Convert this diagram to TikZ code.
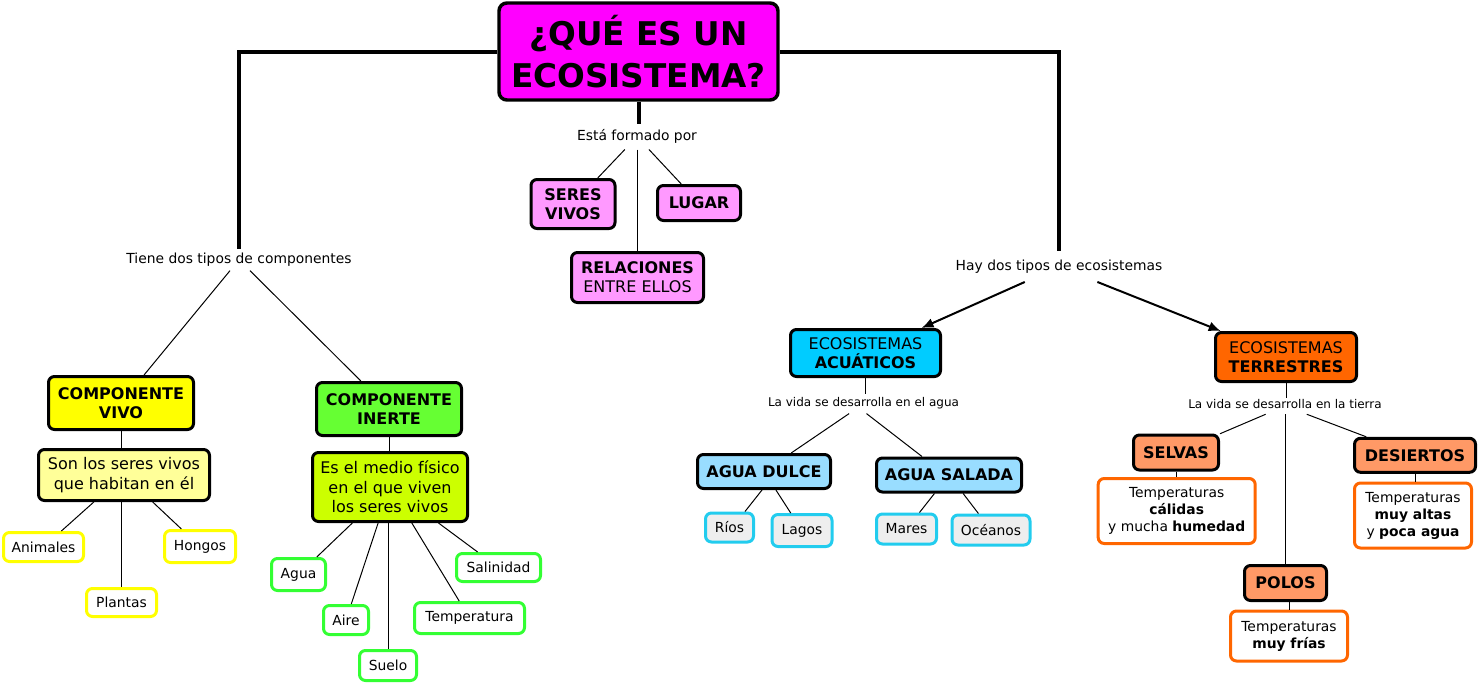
\documentclass[tikz,border=0pt]{standalone}
\usepackage{fontspec}
\setmainfont{DejaVu Sans}
\usetikzlibrary{arrows.meta,calc}
\definecolor{cTitle}{HTML}{FF00FF}
\definecolor{cPink}{HTML}{FF99FF}
\definecolor{cYel}{HTML}{FFFF00}
\definecolor{cLYel}{HTML}{FFFF99}
\definecolor{cGreen}{HTML}{66FF33}
\definecolor{cLime}{HTML}{CCFF00}
\definecolor{cLeafGreen}{HTML}{33FF33}
\definecolor{cCyan}{HTML}{00CCFF}
\definecolor{cLBlue}{HTML}{99DDFF}
\definecolor{cLeafBlue}{HTML}{22CCEE}
\definecolor{cGray}{HTML}{EEEEEE}
\definecolor{cOrange}{HTML}{FF6600}
\definecolor{cSalmon}{HTML}{FF9966}
\begin{document}
\begin{tikzpicture}[x=0.75pt,y=-0.75pt,
  box/.style={draw=black, line width=2.25pt, rounded corners=4.5pt, align=center, inner sep=1pt,
    font=\fontsize{12}{14.25}\selectfont\bfseries},
  txtbox/.style={draw=black, line width=2.25pt, rounded corners=4.5pt, align=center, inner sep=1pt,
    font=\fontsize{12}{14.5}\selectfont},
  leaf/.style={draw=#1, line width=2.25pt, rounded corners=4.5pt, align=center, inner sep=1pt,
    font=\fontsize{10.4}{12.75}\selectfont},
  sz/.style 2 args={minimum width=#1*0.75pt, minimum height=#2*0.75pt},
  lbl/.style={font=\fontsize{10.4}{12}\selectfont, text height=7.5pt, text depth=2.5pt, inner xsep=2pt},
  slbl/.style={font=\fontsize{9}{11}\selectfont, text height=6.5pt, text depth=2.2pt, inner xsep=2pt},
  con/.style={line width=0.75pt},
  trunk/.style={line width=3pt},
  arr/.style={line width=1.5pt, -{Latex[length=9pt,width=7.5pt]}},
]
\useasboundingbox (0,0) rectangle (1478,683);

% ---------- title and centre ----------
\node[box, fill=cTitle, line width=2.6pt, rounded corners=6pt, sz={279}{97},
  font=\fontsize{24.5}{31}\selectfont\bfseries] (title) at (638.5,51.5) {¿QUÉ ES UN\\ECOSISTEMA?};
\node[lbl, font=\fontsize{10.4}{12}\selectfont, inner ysep=4.4pt] (esta) at (637,136.7) {Está formado por};
\node[box, fill=cPink, sz={84}{49}] (seres) at (573,204) {SERES\\VIVOS};
\node[box, fill=cPink, sz={83}{35}] (lugar) at (699,203) {LUGAR};
\node[box, fill=cPink, sz={132}{50}] (rel) at (637.5,277.5) {RELACIONES\\{\mdseries ENTRE ELLOS}};

% ---------- left branch ----------
\node[lbl, inner ysep=3pt] (tiene) at (239,259.7) {Tiene dos tipos de componentes};
\node[box, fill=cYel, sz={145}{53}] (vivo) at (121,403) {COMPONENTE\\VIVO};
\node[txtbox, fill=cLYel, sz={171}{51}] (son) at (124,475) {Son los seres vivos\\que habitan en él};
\node[leaf=cYel, fill=white, sz={80}{29}] (animales) at (43.5,547) {Animales};
\node[leaf=cYel, fill=white, sz={70}{28}] (plantas) at (121.5,602.5) {Plantas};
\node[leaf=cYel, fill=white, sz={71}{32}] (hongos) at (200,546.5) {Hongos};

\node[box, fill=cGreen, sz={145}{53}] (inerte) at (389,409) {COMPONENTE\\INERTE};
\node[txtbox, fill=cLime, sz={155}{69}] (es) at (390,487) {Es el medio físico\\en el que viven\\los seres vivos};
\node[leaf=cLeafGreen, fill=white, sz={54}{32}] (agua) at (298.5,574.5) {Agua};
\node[leaf=cLeafGreen, fill=white, sz={45}{29}] (aire) at (346,620) {Aire};
\node[leaf=cLeafGreen, fill=white, sz={57}{30}] (suelo) at (388,665.5) {Suelo};
\node[leaf=cLeafGreen, fill=white, sz={110}{31}] (temp) at (469.5,618) {Temperatura};
\node[leaf=cLeafGreen, fill=white, sz={84}{28}] (salin) at (498.5,567.5) {Salinidad};

% ---------- right branch ----------
\node[lbl, inner ysep=6.25pt] (hay) at (1059,266.7) {Hay dos tipos de ecosistemas};
\node[box, fill=cCyan, sz={150}{47}] (acua) at (865.5,353) {{\mdseries ECOSISTEMAS}\\ACUÁTICOS};
\node[slbl, inner ysep=2.8pt] (lagua) at (863.5,403.8) {La vida se desarrolla en el agua};
\node[box, fill=cLBlue, sz={133}{34}] (dulce) at (764,471.5) {AGUA DULCE};
\node[box, fill=cLBlue, sz={145}{34}] (salada) at (949,475) {AGUA SALADA};
\node[leaf=cLeafBlue, fill=cGray, sz={48}{29}] (rios) at (729.5,527.5) {Ríos};
\node[leaf=cLeafBlue, fill=cGray, sz={60}{32}] (lagos) at (802,530.5) {Lagos};
\node[leaf=cLeafBlue, fill=cGray, sz={60}{30}] (mares) at (906.5,529) {Mares};
\node[leaf=cLeafBlue, fill=cGray, sz={78}{30}] (oceanos) at (991,530) {Océanos};

\node[box, fill=cOrange, sz={141}{49}] (terr) at (1286,357) {{\mdseries ECOSISTEMAS}\\TERRESTRES};
\node[slbl, inner ysep=1.65pt] (ltierra) at (1285,406) {La vida se desarrolla en la tierra};
\node[box, fill=cSalmon, sz={85}{35}] (selvas) at (1176,452.5) {SELVAS};
\node[leaf=cOrange, fill=white, sz={157}{65}] (tselvas) at (1176.7,511) {Temperaturas\\\textbf{cálidas}\\y mucha \textbf{humedad}};
\node[box, fill=cSalmon, sz={121}{34}] (desiertos) at (1415,455.3) {DESIERTOS};
\node[leaf=cOrange, fill=white, sz={117}{65}] (tdes) at (1413,515.5) {Temperaturas\\\textbf{muy altas}\\y \textbf{poca agua}};
\node[box, fill=cSalmon, sz={82}{35}] (polos) at (1285.5,583) {POLOS};
\node[leaf=cOrange, fill=white, sz={117}{50}] (tpolos) at (1289,636) {Temperaturas\\\textbf{muy frías}};

% ---------- connectors ----------
\draw[trunk] (title.west) -| (tiene.north);
\draw[trunk] (title.east) -| (hay.north);
\draw[trunk] (title.south) -- (title.south |- esta.north);

\draw[con] (esta) -- (seres);
\draw[con] (esta) -- (lugar);
\draw[con] (esta.south) -- (esta.south |- rel.north);

\draw[con] (tiene) -- (vivo);
\draw[con] (tiene) -- (inerte);
\draw[con] (vivo.south) -- (vivo.south |- son.north);
\draw[con] (son) -- (animales);
\draw[con] (plantas.north |- son.south) -- (plantas.north);
\draw[con] (son) -- (hongos);
\draw[con] (inerte.south) -- (inerte.south |- es.north);
\draw[con] (es) -- (agua);
\draw[con] (es) -- (aire);
\draw[con] (suelo.north |- es.south) -- (suelo.north);
\draw[con] (es) -- (temp);
\draw[con] (es) -- (salin);

\draw[arr] (hay) -- (acua);
\draw[arr] (hay) -- (terr);

\draw[con] (acua.south) -- (acua.south |- lagua.north);
\draw[con] (lagua) -- (dulce);
\draw[con] ($(lagua.south)+(3,0)$) -- ($(salada.north)+(-27,0)$);
\draw[con] ($(dulce.south)+(-2,0)$) -- ($(rios.north)+(15.5,0)$);
\draw[con] (dulce) -- (lagos);
\draw[con] (salada) -- (mares);
\draw[con] (salada) -- (oceanos);

\draw[con] (terr.south) -- (terr.south |- ltierra.north);
\draw[con] (ltierra) -- (selvas);
\draw[con] (ltierra.south) -- (ltierra.south |- polos.north);
\draw[con] (ltierra) -- (desiertos);
\draw[con] (selvas.south) -- (selvas.south |- tselvas.north);
\draw[con] (desiertos.south) -- (desiertos.south |- tdes.north);
\draw[con] (tpolos.north |- polos.south) -- (tpolos.north);
\end{tikzpicture}
\end{document}
